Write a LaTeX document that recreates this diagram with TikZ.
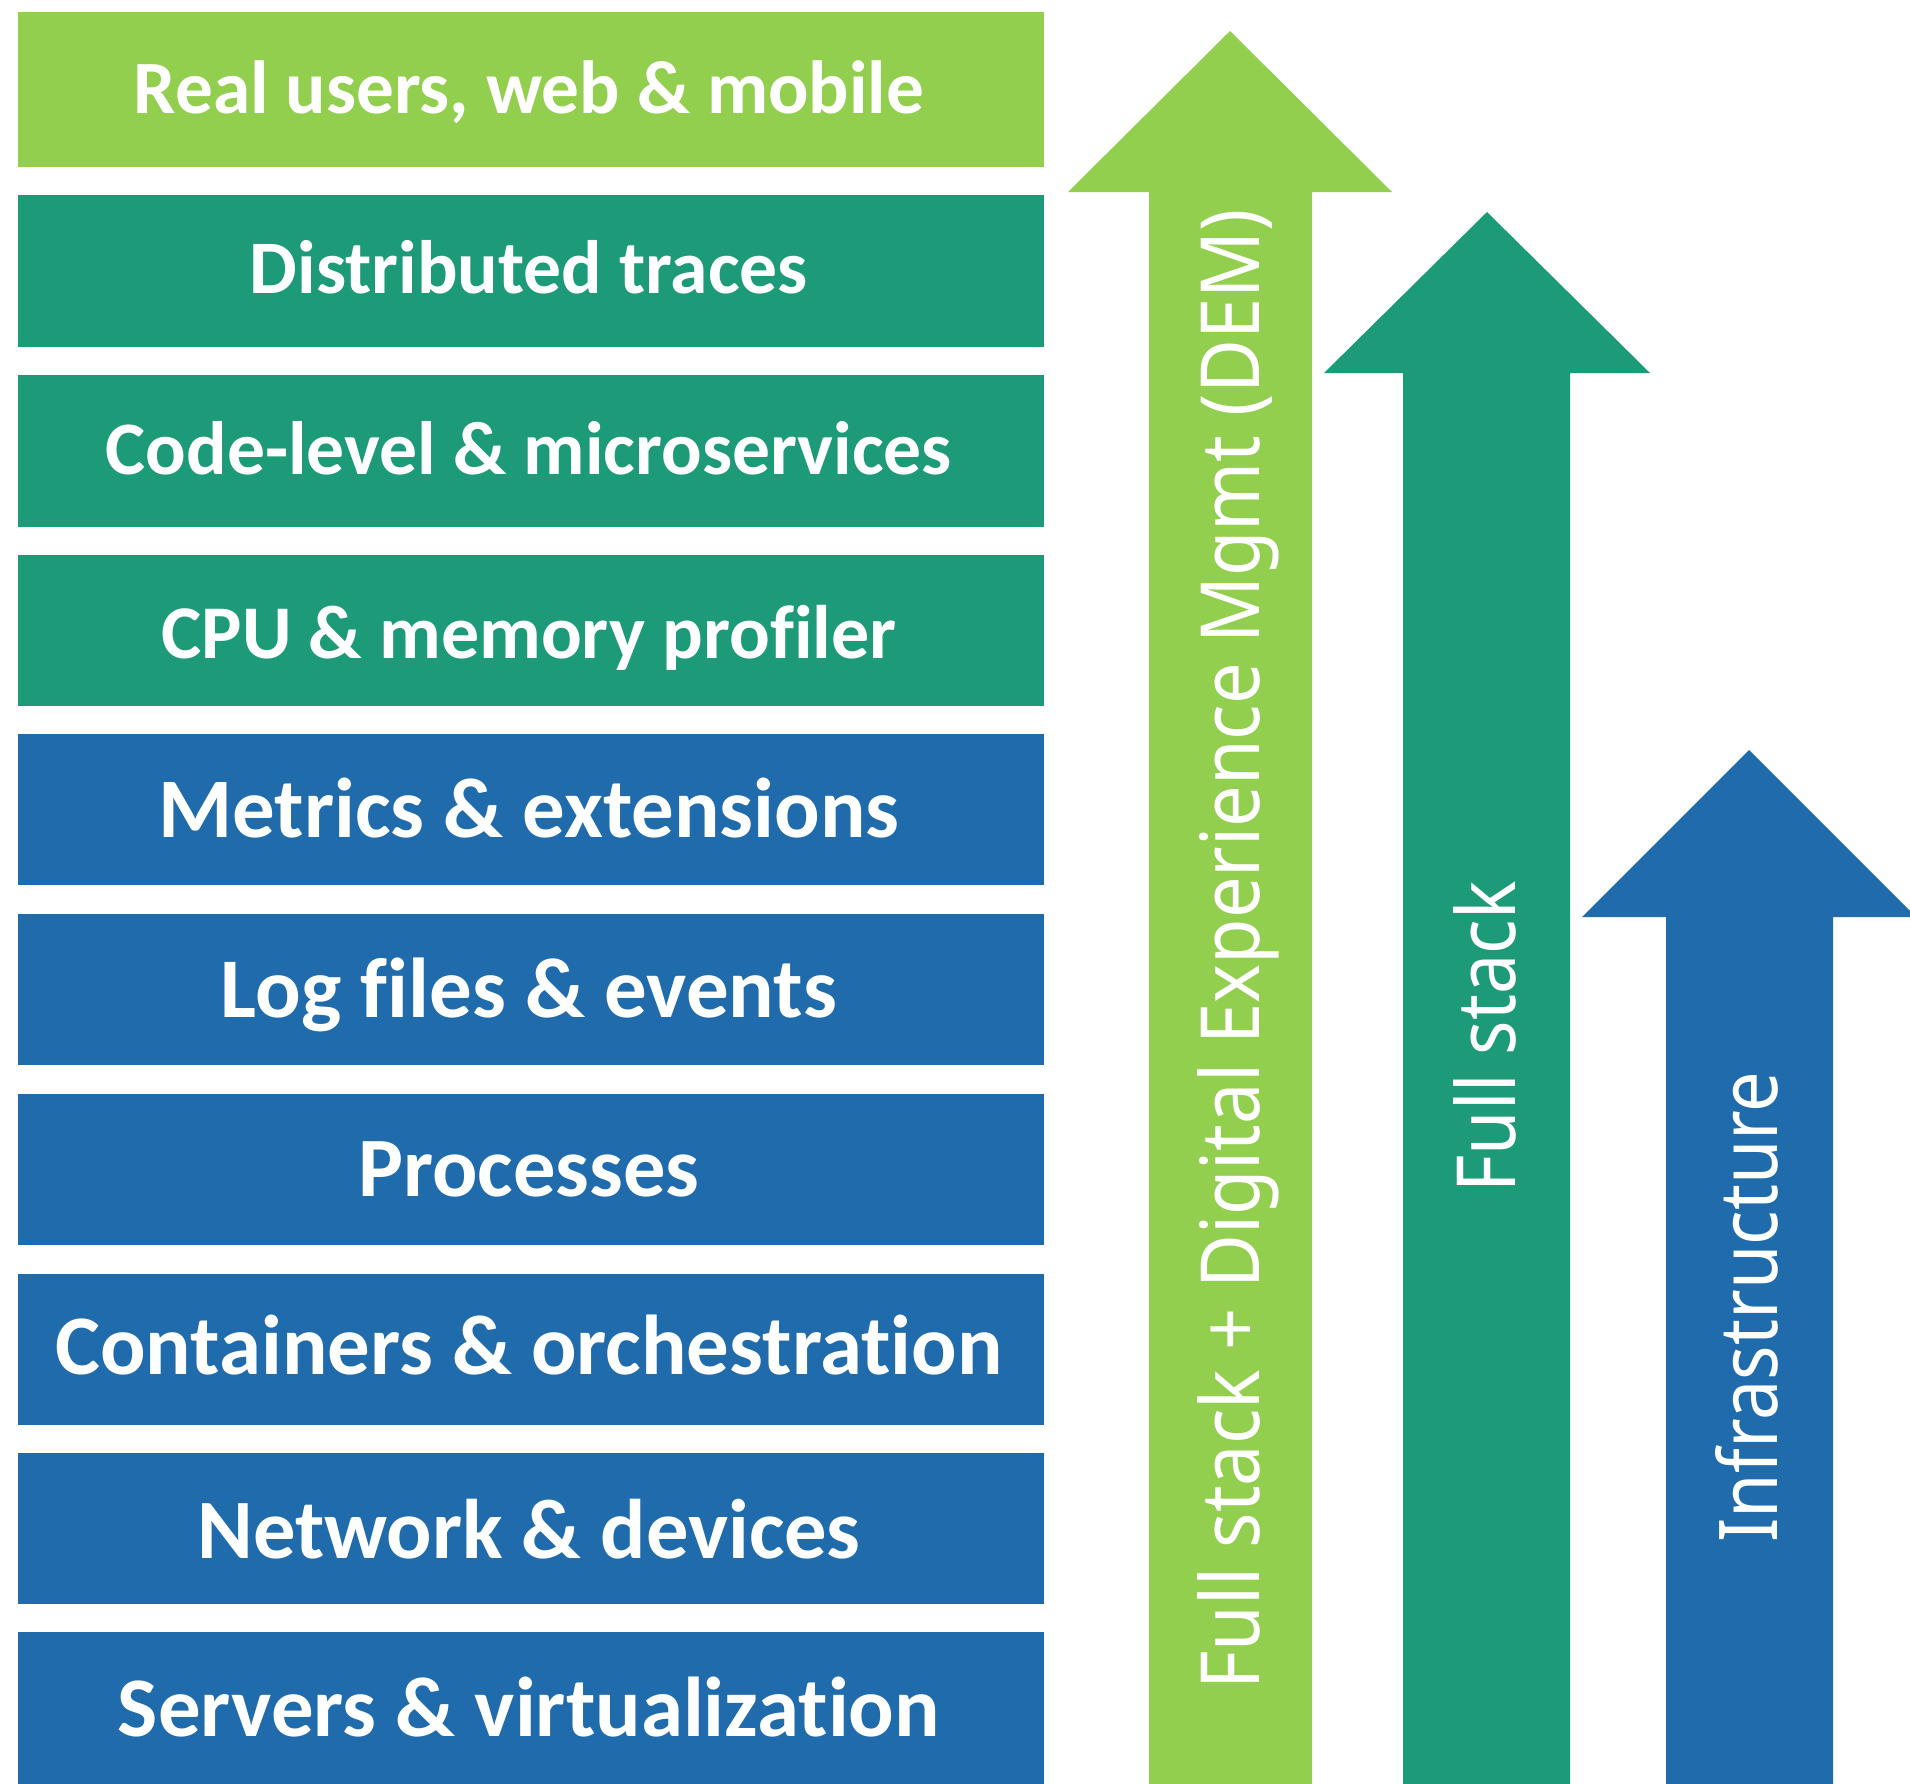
\documentclass[tikz,border=0pt]{standalone}
\usepackage{fontspec}
\usepackage{graphicx}
\setmainfont{Carlito}[Ligatures=NoCommon]
\newfontfamily\arrowfont{Noto Sans}

\definecolor{lgreen}{HTML}{92CF4E}
\definecolor{stackteal}{HTML}{1D9B78}
\definecolor{infblue}{HTML}{1F6BAB}

% stretch a label to a given width and height
\newcommand\fitw[2]{\resizebox{#1}{!}{#2}}
\newcommand\fitwh[3]{\resizebox{#1}{#2}{#3}}

\tikzset{
  layerbox/.style={rectangle, draw=none, inner sep=0pt, outer sep=0pt,
    minimum width=513pt, anchor=north west},
  layerlabel/.style={anchor=base, inner sep=0pt, text=white, font=\bfseries},
  arrowlabel/.style={rotate=90, anchor=base west, inner sep=0pt,
    text=white, font=\arrowfont},
}

\begin{document}
\begin{tikzpicture}[x=0.5pt, y=-0.5pt]
  \useasboundingbox (0,0) rectangle (1910,1783);
  \fill[white] (0,0) rectangle (1910,1783);
  \clip (0,0) rectangle (1910,1783);

  % stacked layers: top / bottom / colour / label width / baseline / label
  \foreach \t/\b/\c/\w/\bl/\txt [count=\i] in {
      12/167/lgreen/395pt/113/{Real users, web \& mobile},
      195/347/stackteal/279pt/293/{Distributed traces},
      375/527/stackteal/423pt/474/{Code-level \& microservices},
      555/706/stackteal/367.5pt/658/{CPU \& memory profiler},
      734/885/infblue/370.5pt/837/{Metrics \& extensions},
      914/1065/infblue/308pt/1017/{Log files \& events},
      1094/1245/infblue/170.5pt/1196/{Processes},
      1274/1425/infblue/473.5pt/1374/{Containers \& orchestration},
      1453/1604/infblue/331.5pt/1558/{Network \& devices},
      1632/1790/infblue/411pt/1736/{Servers \& virtualization}} {
    \node[layerbox, fill=\c, minimum height={(\b-\t)*0.5pt}] (layer\i) at (18,\t) {};
    \node[layerlabel] (layertext\i) at (529,\bl) {\fitw{\w}{\txt}};
  }

  % upward arrows
  \fill[lgreen] (1149,1790) -- (1149,192) -- (1068,192) -- (1230,31)
    -- (1392,192) -- (1312,192) -- (1312,1790) -- cycle;
  \fill[stackteal] (1403,1790) -- (1403,373) -- (1324,373) -- (1487,212)
    -- (1650,373) -- (1570,373) -- (1570,1790) -- cycle;
  \fill[infblue] (1666,1790) -- (1666,917) -- (1582,917) -- (1749,750)
    -- (1916,917) -- (1833,917) -- (1833,1790) -- cycle;

  \node[arrowlabel] (demlabel) at (1259,1690)
    {\fitwh{740pt}{31pt}{Full stack + Digital Experience Mgmt (DEM)}};
  \node[arrowlabel] (fslabel) at (1515,1193)
    {\fitwh{155.5pt}{31pt}{Full stack}};
  \node[arrowlabel] (inflabel) at (1777,1543)
    {\fitwh{235.5pt}{31pt}{Infrastructure}};
\end{tikzpicture}
\end{document}
